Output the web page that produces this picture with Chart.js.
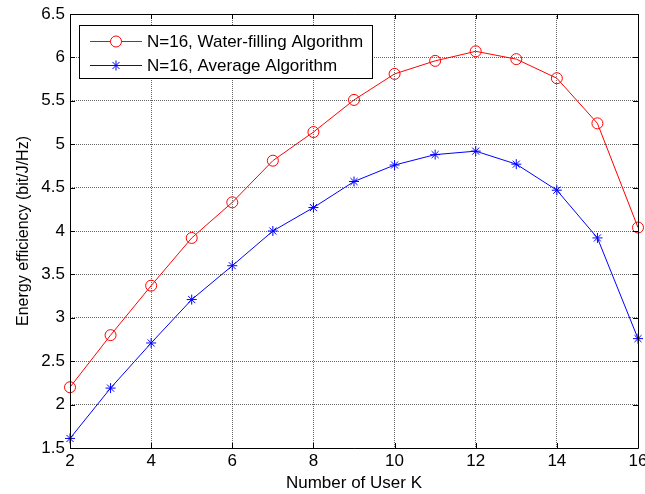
<!DOCTYPE html>
<html>
<head>
<meta charset="utf-8">
<script src="https://cdn.jsdelivr.net/npm/chart.js@4/dist/chart.umd.min.js"></script>
<style>
html,body{margin:0;padding:0;background:#fff;}
#wrap{width:645px;height:494px;}
</style>
</head>
<body>
<div id="wrap"><canvas id="c" width="645" height="494"></canvas></div>
<script>
const users = [2,3,4,5,6,7,8,9,10,11,12,13,14,15,16];
const waterFilling = [2.20,2.80,3.37,3.92,4.33,4.81,5.14,5.51,5.81,5.96,6.07,5.98,5.76,5.24,4.04];
const average = [1.61,2.19,2.71,3.21,3.60,4.00,4.27,4.57,4.76,4.88,4.92,4.77,4.47,3.92,2.76];
const xTickValues = [2,4,6,8,10,12,14,16];
const yTickValues = [1.5,2,2.5,3,3.5,4,4.5,5,5.5,6,6.5];
const seriesNames = ['N=16, Water-filling Algorithm','N=16, Average Algorithm'];

const FONT = 'Liberation Sans, Arial, sans-serif';

const boxPlugin = {
  id:'matlabBox',
  afterDatasetsDraw(chart){
    const {ctx, chartArea:a, scales:{x,y}} = chart;
    ctx.save();
    ctx.strokeStyle = '#000';
    ctx.lineWidth = 1;
    ctx.setLineDash([]);
    ctx.beginPath();
    ctx.rect(Math.round(a.left)+0.5, Math.round(a.top)+0.5, Math.round(a.right-a.left), Math.round(a.bottom-a.top));
    ctx.stroke();
    const tl = 5;
    ctx.beginPath();
    xTickValues.forEach(v=>{
      const px = Math.round(x.getPixelForValue(v))+0.5;
      ctx.moveTo(px, a.bottom); ctx.lineTo(px, a.bottom-tl);
      ctx.moveTo(px, a.top); ctx.lineTo(px, a.top+tl);
    });
    yTickValues.forEach(v=>{
      const py = Math.round(y.getPixelForValue(v))+0.5;
      ctx.moveTo(a.left, py); ctx.lineTo(a.left+tl, py);
      ctx.moveTo(a.right, py); ctx.lineTo(a.right-tl, py);
    });
    ctx.stroke();

    // legend
    const lx=79.5, ly=25.5, lw=293, lh=53;
    ctx.fillStyle='#fff';
    ctx.fillRect(lx,ly,lw,lh);
    ctx.strokeRect(lx,ly,lw,lh);
    const rows=[{y:41,color:'#ff0000',style:'circle',name:seriesNames[0]},{y:65,color:'#0000ff',style:'star',name:seriesNames[1]}];
    ctx.font = '17px '+FONT;
    ctx.textBaseline='middle';
    ctx.textAlign='left';
    rows.forEach(r=>{
      ctx.strokeStyle=r.color; ctx.lineWidth=1;
      ctx.beginPath(); ctx.moveTo(90,r.y+0.5); ctx.lineTo(142,r.y+0.5); ctx.stroke();
      Chart.helpers.drawPoint(ctx,{pointStyle:r.style,radius:r.style==='circle'?5.5:5,rotation:0,borderWidth:1},116,r.y+0.5);
      ctx.fillStyle='#000';
      ctx.fillText(r.name,147,r.y+1);
    });
    ctx.restore();
  }
};

new Chart(document.getElementById('c'),{
  type:'line',
  data:{
    datasets:[
      {label:seriesNames[0],data:users.map((u,i)=>({x:u,y:waterFilling[i]})),borderColor:'#ff0000',backgroundColor:'rgba(0,0,0,0)',borderWidth:1,pointStyle:'circle',pointRadius:5.5,pointBorderWidth:1,pointBorderColor:'#ff0000',pointBackgroundColor:'rgba(0,0,0,0)',tension:0,clip:false},
      {label:seriesNames[1],data:users.map((u,i)=>({x:u,y:average[i]})),borderColor:'#0000ff',backgroundColor:'rgba(0,0,0,0)',borderWidth:1,pointStyle:'star',pointRadius:5,pointBorderWidth:1,pointBorderColor:'#0000ff',pointBackgroundColor:'#0000ff',tension:0,clip:false}
    ]
  },
  options:{
    responsive:false,
    animation:false,
    devicePixelRatio:1,
    layout:{padding:{left:0,right:7,top:14,bottom:0}},
    plugins:{legend:{display:false},tooltip:{enabled:false}},
    scales:{
      x:{type:'linear',min:2,max:16,
        afterBuildTicks(s){s.ticks=xTickValues.map(v=>({value:v}));},
        afterFit(s){s.height=46;s.paddingRight=0;s.paddingLeft=0;},
        ticks:{color:'#000',font:{family:FONT,size:17},padding:3,callback:v=>String(v),maxRotation:0,autoSkip:false},
        grid:{color:'rgba(0,0,0,0.6)',drawTicks:false,lineWidth:1},
        border:{display:false,dash:[1,1]},
        title:{display:true,text:'Number of User K',color:'#000',font:{family:FONT,size:17},padding:{top:0,bottom:0}}
      },
      y:{type:'linear',min:1.5,max:6.5,
        afterBuildTicks(s){s.ticks=yTickValues.map(v=>({value:v}));},
        afterFit(s){s.width=70;s.paddingTop=0;s.paddingBottom=0;},
        ticks:{color:'#000',font:{family:FONT,size:17},padding:5,callback:v=>String(v),autoSkip:false},
        grid:{color:'rgba(0,0,0,0.6)',drawTicks:false,lineWidth:1},
        border:{display:false,dash:[1,1]},
        title:{display:true,text:'Energy efficiency (bit/J/Hz)',color:'#000',font:{family:FONT,size:16},padding:{top:14,bottom:0}}
      }
    }
  },
  plugins:[boxPlugin]
});
</script>
</body>
</html>
